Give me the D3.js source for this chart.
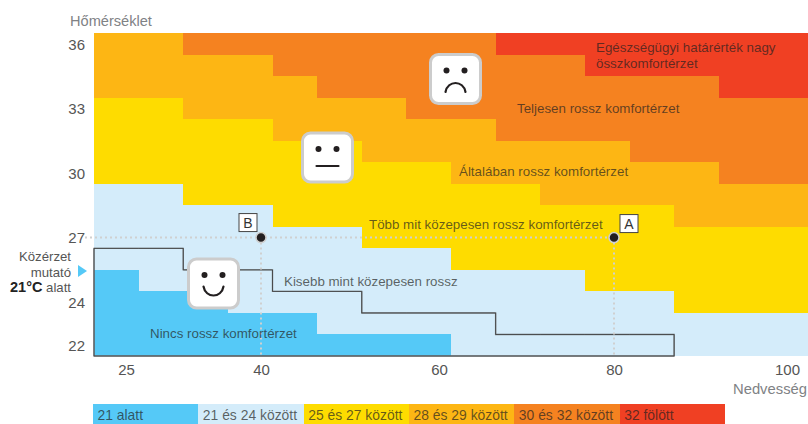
<!DOCTYPE html>
<html><head><meta charset="utf-8">
<script src="https://cdn.jsdelivr.net/npm/d3@7/dist/d3.min.js"></script>
<style>html,body{margin:0;padding:0;background:#fff}svg{display:block}text{font-family:"Liberation Sans",Arial,sans-serif}</style>
</head><body><div id="c"></div>
<script>
const temperatures=[36,35,34,33,32,31,30,29,28,27,26,25,24,23,22];
const humidityBands=[21,26,31,36,41,46,51,56,61,66,71,76,81,86,91,96];
const yTicks=[36,33,30,27,24,22];
const xTicks=[25,40,60,80,100];
const tickPositions=[126,261,439,614,787];
const legendLabels=["21 alatt","21 és 24 között","25 és 27 között","28 és 29 között","30 és 32 között","32 fölött"];
const classColors=["#55C9F7","#D4ECFA","#FEDC00","#FDB614","#F58220","#F04023"];
// rows (from the top) reached by each class's lower edge, per humidity column
const lowerRed=   [0,0,0,0,0,0,0,0,0,1,1,2,2,2,3,3];
const lowerOrange=[0,0,1,1,2,3,3,4,4,5,5,5,6,6,7,7];
const lowerAmber= [3,3,4,4,5,5,6,6,7,7,8,8,8,9,9,9];
const lowerYellow=[7,7,8,8,9,9,10,10,11,11,11,12,12,13,13,13];
const lowerPale=  [11,12,12,13,13,14,14,14,15,15,15,15,15,15,15,15];
const lowerBlue=  [15,15,15,15,15,15,15,15,15,15,15,15,15,15,15,15];
const outlineTop= [10,10,11,11,12,12,13,13,13,14,14,14,14];
const stacks=[lowerRed,lowerOrange,lowerAmber,lowerYellow,lowerPale,lowerBlue];
const stackColors=[5,4,3,2,1,0];
const points=[{h:40,t:27,label:"B",dx:-13},{h:80,t:27,label:"A",dx:15}];
const regionLabels=[
 {lines:["Egészségügyi határérték nagy","összkomfortérzet"],x:596,y:52},
 {lines:["Teljesen rossz komfortérzet"],x:517,y:113},
 {lines:["Általában rossz komfortérzet"],x:459,y:176},
 {lines:["Több mit közepesen rossz komfortérzet"],x:369,y:229},
 {lines:["Kisebb mint közepesen rossz"],x:284,y:286},
 {lines:["Nincs rossz komfortérzet"],x:150,y:338}
];
const faces=[{x:455.5,y:79,mouth:"frown"},{x:327.5,y:157.5,mouth:"flat"},{x:213.5,y:283.5,mouth:"smile"}];

const W=808,H=424,plotL=94,plotR=808,plotT=33,plotB=356;
const svg=d3.select("#c").append("svg").attr("width",W).attr("height",H);
const xBand=d3.scaleBand().domain(humidityBands).range([plotL,plotR]);
const yBand=d3.scaleBand().domain(temperatures).range([plotT,plotB]);
const xHum=d3.scaleLinear().domain(xTicks).range(tickPositions);
const rowEdge=d3.scaleLinear().domain([0,temperatures.length]).range([plotT,plotB]);

// heat cells
stacks.forEach((lower,s)=>{
  const prev=s===0?humidityBands.map(()=>0):stacks[s-1];
  svg.append("g").attr("shape-rendering","crispEdges").selectAll("rect").data(humidityBands).join("rect")
    .attr("x",d=>xBand(d)).attr("width",xBand.bandwidth())
    .attr("y",(d,i)=>rowEdge(prev[i]))
    .attr("height",(d,i)=>Math.max(0,rowEdge(lower[i])-rowEdge(prev[i])))
    .attr("fill",classColors[stackColors[s]]);
});

// outline
const outlinePts=[[plotL,rowEdge(15)]];
outlineTop.forEach((r,i)=>{const x0=xBand(humidityBands[i]);outlinePts.push([x0,rowEdge(r)]);outlinePts.push([x0+xBand.bandwidth(),rowEdge(r)]);});
outlinePts.push([xBand(humidityBands[outlineTop.length-1])+xBand.bandwidth(),rowEdge(15)]);
svg.append("path").attr("d",d3.line()(outlinePts)+"Z").attr("fill","none").attr("stroke","#7d8386").attr("stroke-width",1.4);
svg.append("path").attr("d",d3.line()(outlinePts)+"Z").attr("fill","none").attr("stroke","#333").attr("stroke-width",0.7);

// guide lines
const guide=g=>g.attr("stroke","#cfd0d0").attr("stroke-width",2).attr("stroke-dasharray","2 3").attr("fill","none");
const yMark=yBand(27)+yBand.bandwidth()/2;
svg.append("line").call(guide).attr("x1",85).attr("x2",xHum(80)).attr("y1",yMark).attr("y2",yMark);
points.forEach(p=>svg.append("line").call(guide).attr("x1",xHum(p.h)).attr("x2",xHum(p.h)).attr("y1",yMark).attr("y2",plotB));

// axes
const yAxis=d3.axisLeft(d3.scalePoint().domain(temperatures).range([yBand(36)+yBand.bandwidth()/2,yBand(22)+yBand.bandwidth()/2])).tickValues(yTicks).tickSize(0).tickPadding(0);
const gy=svg.append("g").attr("transform","translate(85,0.5)").call(yAxis);
gy.select(".domain").remove();
gy.selectAll("text").attr("font-size",15).attr("fill","#555").style("font-family",'"Liberation Sans",Arial,sans-serif');
const xAxis=d3.axisBottom(xHum).tickValues(xTicks).tickSize(0).tickPadding(0).tickFormat(d3.format("d"));
const gx=svg.append("g").attr("transform","translate(0,364)").call(xAxis);
gx.select(".domain").remove();
gx.selectAll("text").attr("font-size",15).attr("fill","#555").style("font-family",'"Liberation Sans",Arial,sans-serif');

svg.append("text").attr("x",70).attr("y",26).attr("font-size",14.6).attr("fill","#808285").text("Hőmérséklet");
svg.append("text").attr("x",807).attr("y",394).attr("text-anchor","end").attr("font-size",14.8).attr("fill","#808285").text("Nedvesség");

// left note
const note=svg.append("g").attr("text-anchor","end").attr("font-size",13.2).attr("fill","#555");
note.append("text").attr("x",71).attr("y",261).text("Közérzet");
note.append("text").attr("x",71).attr("y",277).text("mutató");
const n3=note.append("text").attr("x",71).attr("y",292);
n3.append("tspan").attr("font-weight","bold").attr("font-size",14.5).attr("fill","#222").text("21°C");
n3.append("tspan").text(" alatt");
svg.append("path").attr("d",d3.line()([[78,265],[87,271],[78,277]])+"Z").attr("fill",classColors[0]);

// region labels
regionLabels.forEach(l=>l.lines.forEach((t,i)=>svg.append("text").attr("x",l.x).attr("y",l.y+i*16)
  .attr("font-size",13.35).attr("fill","#231f20").attr("fill-opacity",0.7).text(t)));

// points
points.forEach(p=>{
  const cx=xHum(p.h);
  svg.append("circle").attr("cx",cx).attr("cy",yMark).attr("r",5).attr("fill","#231f20").attr("stroke","#cfd0d0").attr("stroke-width",1.5);
  const bx=cx+p.dx-9,by=yMark-23+(p.label==="A"?0:-1);
  svg.append("rect").attr("x",bx).attr("y",by).attr("width",18).attr("height",18).attr("fill","#fff").attr("stroke","#444").attr("stroke-width",1);
  svg.append("text").attr("x",bx+9).attr("y",by+14).attr("text-anchor","middle").attr("font-size",14).attr("fill","#333").text(p.label);
});

// faces
faces.forEach(f=>{
  const g=svg.append("g").attr("transform",`translate(${f.x},${f.y})`);
  g.append("rect").attr("x",-25).attr("y",-24.5).attr("width",50).attr("height",49).attr("rx",8).attr("fill","#fff").attr("stroke","#ccc").attr("stroke-width",3);
  [-9,9].forEach(dx=>g.append("circle").attr("cx",dx).attr("cy",-8.5).attr("r",3).attr("fill","#231f20"));
  const m=g.append("path").attr("fill","none").attr("stroke","#231f20").attr("stroke-width",2.2).attr("stroke-linecap","round");
  if(f.mouth==="smile")m.attr("d","M-10,3 C-8,15 8,15 10,3");
  if(f.mouth==="flat")m.attr("d","M-11,8.5 L11,8.5");
  if(f.mouth==="frown")m.attr("d","M-10,13 C-8,1 8,1 10,13");
});

// legend
const legendX=d3.scaleBand().domain(legendLabels).range([93,725]);
const lg=svg.append("g");
lg.selectAll("rect").data(legendLabels).join("rect").attr("shape-rendering","crispEdges").attr("x",d=>legendX(d)).attr("y",404).attr("width",legendX.bandwidth()).attr("height",20).attr("fill",(d,i)=>classColors[i]);
lg.selectAll("text").data(legendLabels).join("text").attr("x",d=>legendX(d)+4.5).attr("y",419.5).attr("font-size",13.9).attr("fill","#231f20").attr("fill-opacity",0.7).text(d=>d);
</script></body></html>
